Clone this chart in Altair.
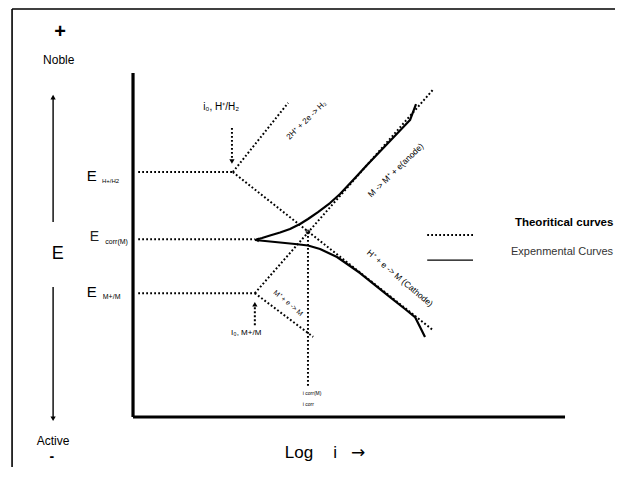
import altair as alt
import pandas as pd

# Data units: x = log i (axis runs 0..10), y = E (axis runs 0..10)
X_DOMAIN = [-2.894, 11.157]
Y_DOMAIN = [-1.453, 11.890]

# Theoretical (dotted) straight lines: start / end points
theo_names = ["E_H", "E_corr", "E_M", "H_anodic", "H_cathodic", "M_anodic", "M_cathodic", "i_corr",
              "i0_H_arrow", "i0_M_arrow", "legend_theo"]
theo_x0 = [0.12, 0.12, 0.12, 2.31, 2.31, 2.82, 2.82, 4.05, 2.29, 2.82, 6.81]
theo_y0 = [7.12, 5.17, 3.60, 7.12, 7.12, 3.60, 3.60, 5.38, 8.40, 2.67, 5.29]
theo_x1 = [2.31, 2.82, 2.82, 3.59, 6.94, 6.94, 4.17, 4.05, 2.29, 2.82, 7.87]
theo_y1 = [7.12, 5.17, 3.60, 9.13, 2.53, 9.51, 2.33, 0.87, 7.50, 3.25, 5.29]

# Experimental (solid) curves
anodic_x = [2.824, 2.986, 3.171, 3.403, 3.634, 3.866, 4.051, 4.282, 4.560, 4.792,
            5.139, 5.417, 5.949, 6.412, 6.481, 6.551]
anodic_y = [5.145, 5.203, 5.276, 5.363, 5.465, 5.610, 5.756, 5.959, 6.221, 6.483,
            6.948, 7.326, 8.023, 8.634, 8.866, 9.093]
cathodic_x = [2.824, 3.056, 3.403, 3.750, 4.051, 4.329, 4.722, 5.023, 5.255, 5.602,
              5.949, 6.296, 6.528, 6.644, 6.759]
cathodic_y = [5.145, 5.116, 5.073, 5.029, 4.985, 4.884, 4.651, 4.390, 4.186, 3.837,
              3.488, 3.140, 2.907, 2.616, 2.326]

# Axes of the diagram
axis_x0 = [0.0, 0.0]
axis_y0 = [0.0, 0.0]
axis_x1 = [0.0, 10.0]
axis_y1 = [10.0, 0.0]

# Left "Noble / Active" arrows and legend solid sample
thin_x0 = [-1.85, -1.85, 6.81]
thin_y0 = [5.67, 3.78, 4.56]
thin_x1 = [-1.85, -1.85, 7.87]
thin_y1 = [9.30, 0.00, 4.56]

# Arrow heads
up_heads_x = [-1.85, 2.82]
up_heads_y = [9.30, 3.28]
down_heads_x = [-1.85, 2.29]
down_heads_y = [-0.05, 7.43]

# Frame (top and left edges)
frame_x0 = [-2.80, -2.80]
frame_y0 = [11.86, 11.86]
frame_x1 = [12.0, -2.80]
frame_y1 = [11.86, -3.0]

xs = alt.Scale(domain=X_DOMAIN, nice=False, zero=False)
ys = alt.Scale(domain=Y_DOMAIN, nice=False, zero=False)
FONT = "Liberation Sans"


def segs(x0, y0, x1, y1):
    return pd.DataFrame({"x": x0, "y": y0, "x2": x1, "y2": y1})


def rule_layer(df, **kw):
    return alt.Chart(df).mark_rule(**kw).encode(
        x=alt.X("x:Q", scale=xs, axis=None),
        y=alt.Y("y:Q", scale=ys, axis=None),
        x2="x2:Q",
        y2="y2:Q",
    )


def curve_layer(xv, yv):
    df = pd.DataFrame({"x": xv, "y": yv, "i": list(range(len(xv)))})
    return alt.Chart(df).mark_line(color="black", strokeWidth=2.2, interpolate="linear",
                                   strokeJoin="round").encode(
        x=alt.X("x:Q", scale=xs, axis=None),
        y=alt.Y("y:Q", scale=ys, axis=None),
        order="i:Q",
    )


def heads(xv, yv, shape):
    df = pd.DataFrame({"x": xv, "y": yv})
    return alt.Chart(df).mark_point(shape=shape, filled=True, color="black", size=28, opacity=1).encode(
        x=alt.X("x:Q", scale=xs, axis=None),
        y=alt.Y("y:Q", scale=ys, axis=None),
    )


def label(text, x, y, **kw):
    df = pd.DataFrame({"t": [text], "x": [x], "y": [y]})
    opts = dict(font=FONT, color="black", baseline="middle", align="center")
    opts.update(kw)
    return alt.Chart(df).mark_text(**opts).encode(
        x=alt.X("x:Q", scale=xs, axis=None),
        y=alt.Y("y:Q", scale=ys, axis=None),
        text="t:N",
    )


layers = [
    rule_layer(segs(frame_x0, frame_y0, frame_x1, frame_y1), color="black", strokeWidth=1.6),
    rule_layer(segs(theo_x0, theo_y0, theo_x1, theo_y1), color="black", strokeWidth=2,
               strokeDash=[1.8, 2.2]),
    rule_layer(segs(axis_x0, axis_y0, axis_x1, axis_y1), color="black", strokeWidth=3.2),
    rule_layer(segs(thin_x0, thin_y0, thin_x1, thin_y1), color="black", strokeWidth=1.4),
    curve_layer(anodic_x, anodic_y),
    curve_layer(cathodic_x, cathodic_y),
    heads(up_heads_x, up_heads_y, "triangle-up"),
    heads(down_heads_x, down_heads_y, "triangle-down"),
    alt.Chart(pd.DataFrame({"x": [4.05], "y": [5.38]})).mark_point(
        shape="circle", filled=False, color="black", size=14, strokeWidth=1, opacity=1).encode(
        x=alt.X("x:Q", scale=xs, axis=None), y=alt.Y("y:Q", scale=ys, axis=None)),
    alt.Chart(pd.DataFrame({"x": [2.86], "y": [5.15]})).mark_point(
        shape="triangle-left", filled=True, color="black", size=22, opacity=1).encode(
        x=alt.X("x:Q", scale=xs, axis=None), y=alt.Y("y:Q", scale=ys, axis=None)),
    # left side texts
    label("+", -1.69, 11.19, fontSize=20, fontWeight="bold"),
    label("Noble", -1.72, 10.38, fontSize=12),
    label("E", -1.74, 4.75, fontSize=18),
    label("Active", -1.85, -0.70, fontSize=12),
    label("-", -1.88, -1.17, fontSize=14, fontWeight="bold"),
    # potential labels
    label("E", -1.07, 7.00, fontSize=15, align="left"),
    label("H+/H2", -0.72, 6.85, fontSize=6, align="left"),
    label("E", -1.00, 5.22, fontSize=14, align="left", color="#222"),
    label("corr(M)", -0.64, 5.09, fontSize=7, align="left"),
    label("E", -1.07, 3.63, fontSize=15, align="left"),
    label("M+/M", -0.70, 3.49, fontSize=7, align="left"),
    # exchange current labels
    label("i₀, H⁺/H₂", 2.04, 9.01, fontSize=10),
    label("I₀, M+/M", 2.62, 2.44, fontSize=8),
    label("i corr(M)", 3.93, 0.70, fontSize=5, align="left"),
    label("i corr", 3.93, 0.38, fontSize=5, align="left"),
    # reaction labels along lines
    label("2H⁺ + 2e -> H₂", 4.02, 8.62, fontSize=8, angle=316),
    label("M -> M⁺ + e(anode)", 6.08, 7.18, fontSize=8.5, angle=316),
    label("H⁺ + e -> M (Cathode)", 6.18, 4.04, fontSize=8.5, angle=40),
    label("M⁺ + e -> M", 3.59, 3.31, fontSize=7, angle=40),
    # x axis title
    label("Log", 3.84, -1.05, fontSize=17),
    label("i", 4.68, -1.05, fontSize=17),
    label("→", 5.21, -1.05, fontSize=17, font="DejaVu Sans"),
    # legend texts
    label("Theoritical curves", 8.84, 5.64, fontSize=11.5, fontWeight="bold", align="left"),
    label("Expenmental Curves", 8.75, 4.80, fontSize=11, align="left", color="#333"),
]

chart = alt.layer(*layers).properties(
    width=607,
    height=459,
    padding=0,
    autosize=alt.AutoSizeParams(type="none"),
    background="white",
).configure_view(stroke=None)

chart.save("out.html", embed_options={"renderer": "svg", "actions": False})
